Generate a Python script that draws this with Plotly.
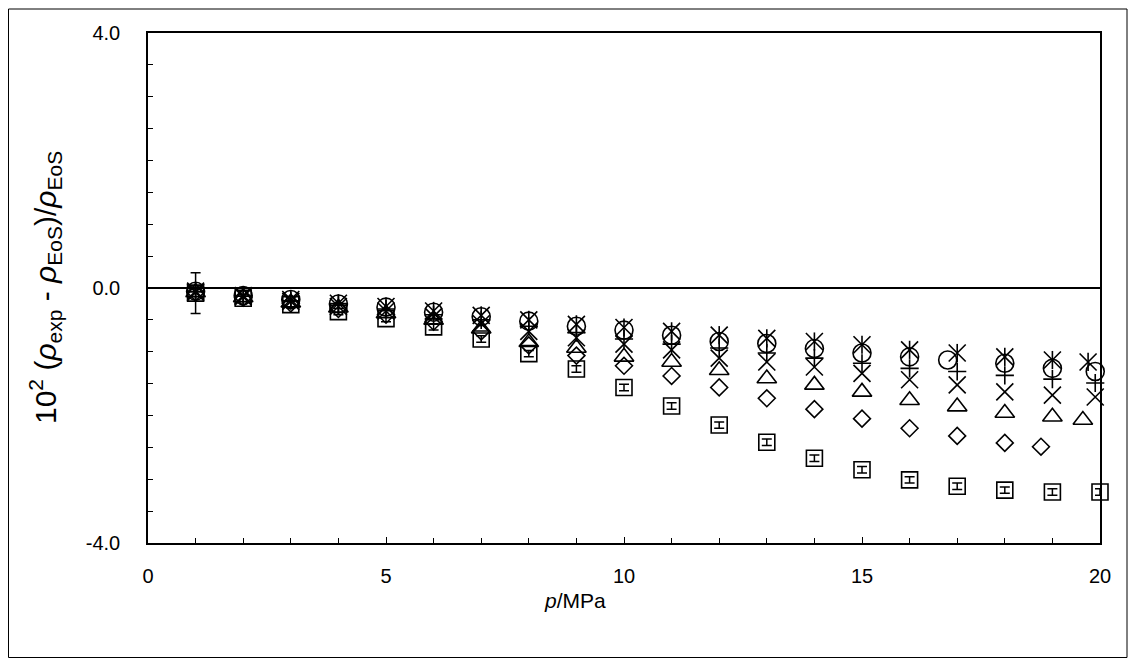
import plotly.graph_objects as go

# ---- data ----
sq_x = list(range(1, 21))
sq_y = [-0.08, -0.16, -0.26, -0.37, -0.48, -0.61, -0.80, -1.03, -1.27, -1.56,
        -1.85, -2.15, -2.42, -2.67, -2.85, -3.01, -3.11, -3.17, -3.20, -3.20]
sq_err = [0.32] + [0.05] * 19

di_x = list(range(1, 19)) + [18.76]
di_y = [-0.07, -0.15, -0.24, -0.33, -0.42, -0.53, -0.68, -0.90, -1.06, -1.22,
        -1.38, -1.56, -1.73, -1.90, -2.05, -2.20, -2.32, -2.43, -2.49]

tr_x = list(range(1, 20)) + [19.64]
tr_y = [-0.07, -0.15, -0.23, -0.31, -0.40, -0.50, -0.64, -0.85, -0.94, -1.08,
        -1.16, -1.29, -1.42, -1.52, -1.63, -1.76, -1.86, -1.96, -2.02, -2.07]

xx_x = list(range(1, 20)) + [19.9]
xx_y = [-0.07, -0.14, -0.21, -0.29, -0.36, -0.45, -0.56, -0.68, -0.78, -0.88,
        -0.97, -1.10, -1.16, -1.24, -1.34, -1.44, -1.52, -1.63, -1.68, -1.71]

pl_x = list(range(1, 20)) + [19.9]
pl_y = [-0.06, -0.13, -0.20, -0.27, -0.33, -0.42, -0.50, -0.60, -0.70, -0.80,
        -0.88, -0.94, -1.02, -1.10, -1.18, -1.26, -1.31, -1.37, -1.43, -1.49]

ci_x = list(range(1, 17)) + [16.8, 18, 19, 19.9]
ci_y = [-0.05, -0.12, -0.18, -0.25, -0.30, -0.38, -0.45, -0.52, -0.60, -0.66,
        -0.74, -0.84, -0.87, -0.95, -1.02, -1.08, -1.13, -1.18, -1.26, -1.31]

st_x = list(range(1, 20)) + [19.75]
st_y = [-0.05, -0.12, -0.18, -0.24, -0.29, -0.36, -0.43, -0.50, -0.57, -0.62,
        -0.68, -0.74, -0.79, -0.84, -0.89, -0.97, -1.02, -1.08, -1.13, -1.16]

y_tickvals = [-4.0, 0.0, 4.0]
x_tickvals = [0, 5, 10, 15, 20]

FONT = "Liberation Sans, Arial, sans-serif"
LW = 1.6

def mk(symbol, size):
    return dict(symbol=symbol, size=size, color="black",
                line=dict(width=LW, color="black"))

fig = go.Figure()
fig.add_trace(go.Scatter(x=sq_x, y=sq_y, mode="markers", marker=mk("square-open", 16),
                         error_y=dict(type="data", array=sq_err, visible=True,
                                      color="black", thickness=1.5, width=5),
                         cliponaxis=False, showlegend=False))
fig.add_trace(go.Scatter(x=di_x, y=di_y, mode="markers", marker=mk("diamond-open", 13),
                         cliponaxis=False, showlegend=False))
fig.add_trace(go.Scatter(x=tr_x, y=tr_y, mode="markers", marker=mk("triangle-up-open", 17),
                         cliponaxis=False, showlegend=False))
fig.add_trace(go.Scatter(x=xx_x, y=xx_y, mode="markers", marker=mk("x-thin-open", 17),
                         cliponaxis=False, showlegend=False))
fig.add_trace(go.Scatter(x=pl_x, y=pl_y, mode="markers", marker=mk("cross-thin-open", 13),
                         cliponaxis=False, showlegend=False))
fig.add_trace(go.Scatter(x=ci_x, y=ci_y, mode="markers", marker=mk("circle-open", 18),
                         cliponaxis=False, showlegend=False))
fig.add_trace(go.Scatter(x=st_x, y=st_y, mode="markers", marker=mk("x-thin-open", 17),
                         cliponaxis=False, showlegend=False))
fig.add_trace(go.Scatter(x=st_x, y=st_y, mode="markers", marker=mk("line-ns-open", 13),
                         cliponaxis=False, showlegend=False))

# page body has an 8px margin: figure origin sits at screen (8, 8)
OFF = 8
W, H = 1120, 650
L, R, T, B = 148 - OFF, W - (1100 - OFF), 33 - OFF, H - (543 - OFF)
pw, ph = W - L - R, H - T - B

def sx(px):  # screen px -> paper x
    return (px - OFF - L) / pw

def sy(py):  # screen py -> paper y
    return (H - B - (py - OFF)) / ph

fig.update_layout(
    width=W, height=H,
    margin=dict(l=L, r=R, t=T, b=B),
    paper_bgcolor="white", plot_bgcolor="white",
    font=dict(family=FONT, size=20, color="black"),
    xaxis=dict(range=[0, 20], tickvals=x_tickvals, ticktext=[str(v) for v in x_tickvals],
               showgrid=False, zeroline=False, showline=True, mirror=True,
               linecolor="black", linewidth=1.5, ticks="inside", ticklen=6,
               tickwidth=1, tickcolor="black", ticklabelstandoff=14,
               minor=dict(dtick=1, ticks="inside", ticklen=5, tickwidth=1, tickcolor="black"),
               tickfont=dict(family=FONT, size=20)),
    yaxis=dict(range=[-4, 4], tickvals=y_tickvals, ticktext=[f"{v:.1f}" for v in y_tickvals],
               showgrid=False, zeroline=True, zerolinecolor="black", zerolinewidth=1.5,
               showline=True, mirror=True, linecolor="black", linewidth=1.5,
               ticks="inside", ticklen=6, tickwidth=1, tickcolor="black",
               ticklabelstandoff=22,
               minor=dict(dtick=0.5, ticks="inside", ticklen=5, tickwidth=1, tickcolor="black"),
               tickfont=dict(family=FONT, size=20)),
    shapes=[dict(type="rect", xref="paper", yref="paper",
                 x0=-L / pw + 0.5 / pw, x1=1 + (R - 1) / pw,
                 y0=-B / ph + 0.5 / ph, y1=1 + (T - 1) / ph,
                 line=dict(color="black", width=1), fillcolor="rgba(0,0,0,0)")],
    annotations=[
        dict(text="<i>p</i>/MPa", xref="paper", yref="paper", x=sx(575), y=sy(600),
             showarrow=False, xanchor="center", yanchor="middle",
             font=dict(family=FONT, size=21)),
        dict(text="10<sup>2</sup> (<i>ρ</i><sub>exp</sub> - <i>ρ</i><sub>EoS</sub>)/<i>ρ</i><sub>EoS</sub>",
             xref="paper", yref="paper", x=sx(45), y=sy(288), textangle=-90,
             showarrow=False, xanchor="center", yanchor="middle",
             font=dict(family=FONT, size=30)),
    ],
)

fig.write_html("out.html")
